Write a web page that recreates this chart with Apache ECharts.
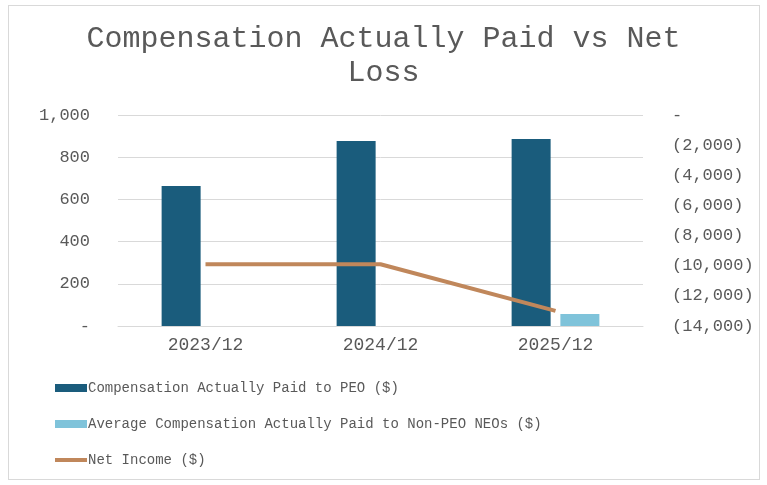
<!DOCTYPE html>
<html>
<head>
<meta charset="utf-8">
<script src="https://cdn.jsdelivr.net/npm/echarts@6/dist/echarts.min.js"></script>
<style>
  html, body { margin: 0; padding: 0; background: #fff; }
  #frame { position: absolute; left: 8px; top: 5px; width: 752px; height: 475px; border: 1px solid #d9d9d9; box-sizing: border-box; }
  #chart { width: 767px; height: 485px; position: absolute; left: 0; top: 0; }
</style>
</head>
<body>
<div id="frame"></div>
<div id="chart"></div>
<script>
const categories = ['2023/12', '2024/12', '2025/12'];
const peoCap = [663, 877, 886];
const nonPeoCap = [null, null, 57];
const netIncome = [-9900, -9900, -13000];
const titleText = 'Compensation Actually Paid vs Net\nLoss';
const seriesNames = ['Compensation Actually Paid to PEO ($)', 'Average Compensation Actually Paid to Non-PEO NEOs ($)', 'Net Income ($)'];

const FONT = '"Liberation Mono", "Courier New", monospace';
const chart = echarts.init(document.getElementById('chart'));
function fmtNum(v) {
  return Math.abs(v).toString().replace(/\B(?=(\d{3})+(?!\d))/g, ',');
}
chart.setOption({
  animation: false,
  backgroundColor: 'transparent',
  title: {
    text: titleText,
    left: 'center',
    top: 17,
    textStyle: { fontFamily: FONT, fontSize: 30, fontWeight: 'normal', color: '#595959', lineHeight: 34 }
  },
  grid: { left: 118, right: 124, top: 115, bottom: 159 },
  legend: {
    orient: 'vertical',
    left: 50,
    top: 376,
    itemWidth: 32,
    itemHeight: 8,
    itemGap: 22,
    textStyle: { fontFamily: FONT, fontSize: 14, color: '#595959', padding: [0, 0, 0, -4] },
    data: [
      { name: seriesNames[0], icon: 'rect' },
      { name: seriesNames[1], icon: 'rect' },
      { name: seriesNames[2], icon: 'path://M0,0 L32,0 L32,4 L0,4 Z' }
    ]
  },
  xAxis: {
    type: 'category',
    data: categories,
    axisLine: { lineStyle: { color: '#d9d9d9' } },
    axisTick: { show: false },
    axisLabel: { fontFamily: FONT, fontSize: 18, color: '#595959', margin: 10 }
  },
  yAxis: [
    {
      type: 'value', min: 0, max: 1000, interval: 200,
      axisLine: { show: false }, axisTick: { show: false },
      splitLine: { lineStyle: { color: '#d9d9d9' } },
      axisLabel: { fontFamily: FONT, fontSize: 17, color: '#595959', margin: 28,
        formatter: v => v === 0 ? '-' : fmtNum(v) }
    },
    {
      type: 'value', min: -14000, max: 0, interval: 2000,
      axisLine: { show: false }, axisTick: { show: false },
      splitLine: { show: false },
      axisLabel: { fontFamily: FONT, fontSize: 17, color: '#595959', margin: 29,
        formatter: v => v === 0 ? '-' : '(' + fmtNum(v) + ')' }
    }
  ],
  series: [
    {
      name: seriesNames[0], type: 'bar', data: peoCap, yAxisIndex: 0,
      barWidth: 39, barGap: '25%',
      itemStyle: { color: '#1a5c7c' }
    },
    {
      name: seriesNames[1], type: 'bar', data: nonPeoCap, yAxisIndex: 0,
      barWidth: 39,
      itemStyle: { color: '#7fc3da' }
    },
    {
      name: seriesNames[2], type: 'line', data: netIncome, yAxisIndex: 1,
      symbol: 'none',
      lineStyle: { color: '#c0875b', width: 4 },
      itemStyle: { color: '#c0875b' }
    }
  ]
});
</script>
</body>
</html>
